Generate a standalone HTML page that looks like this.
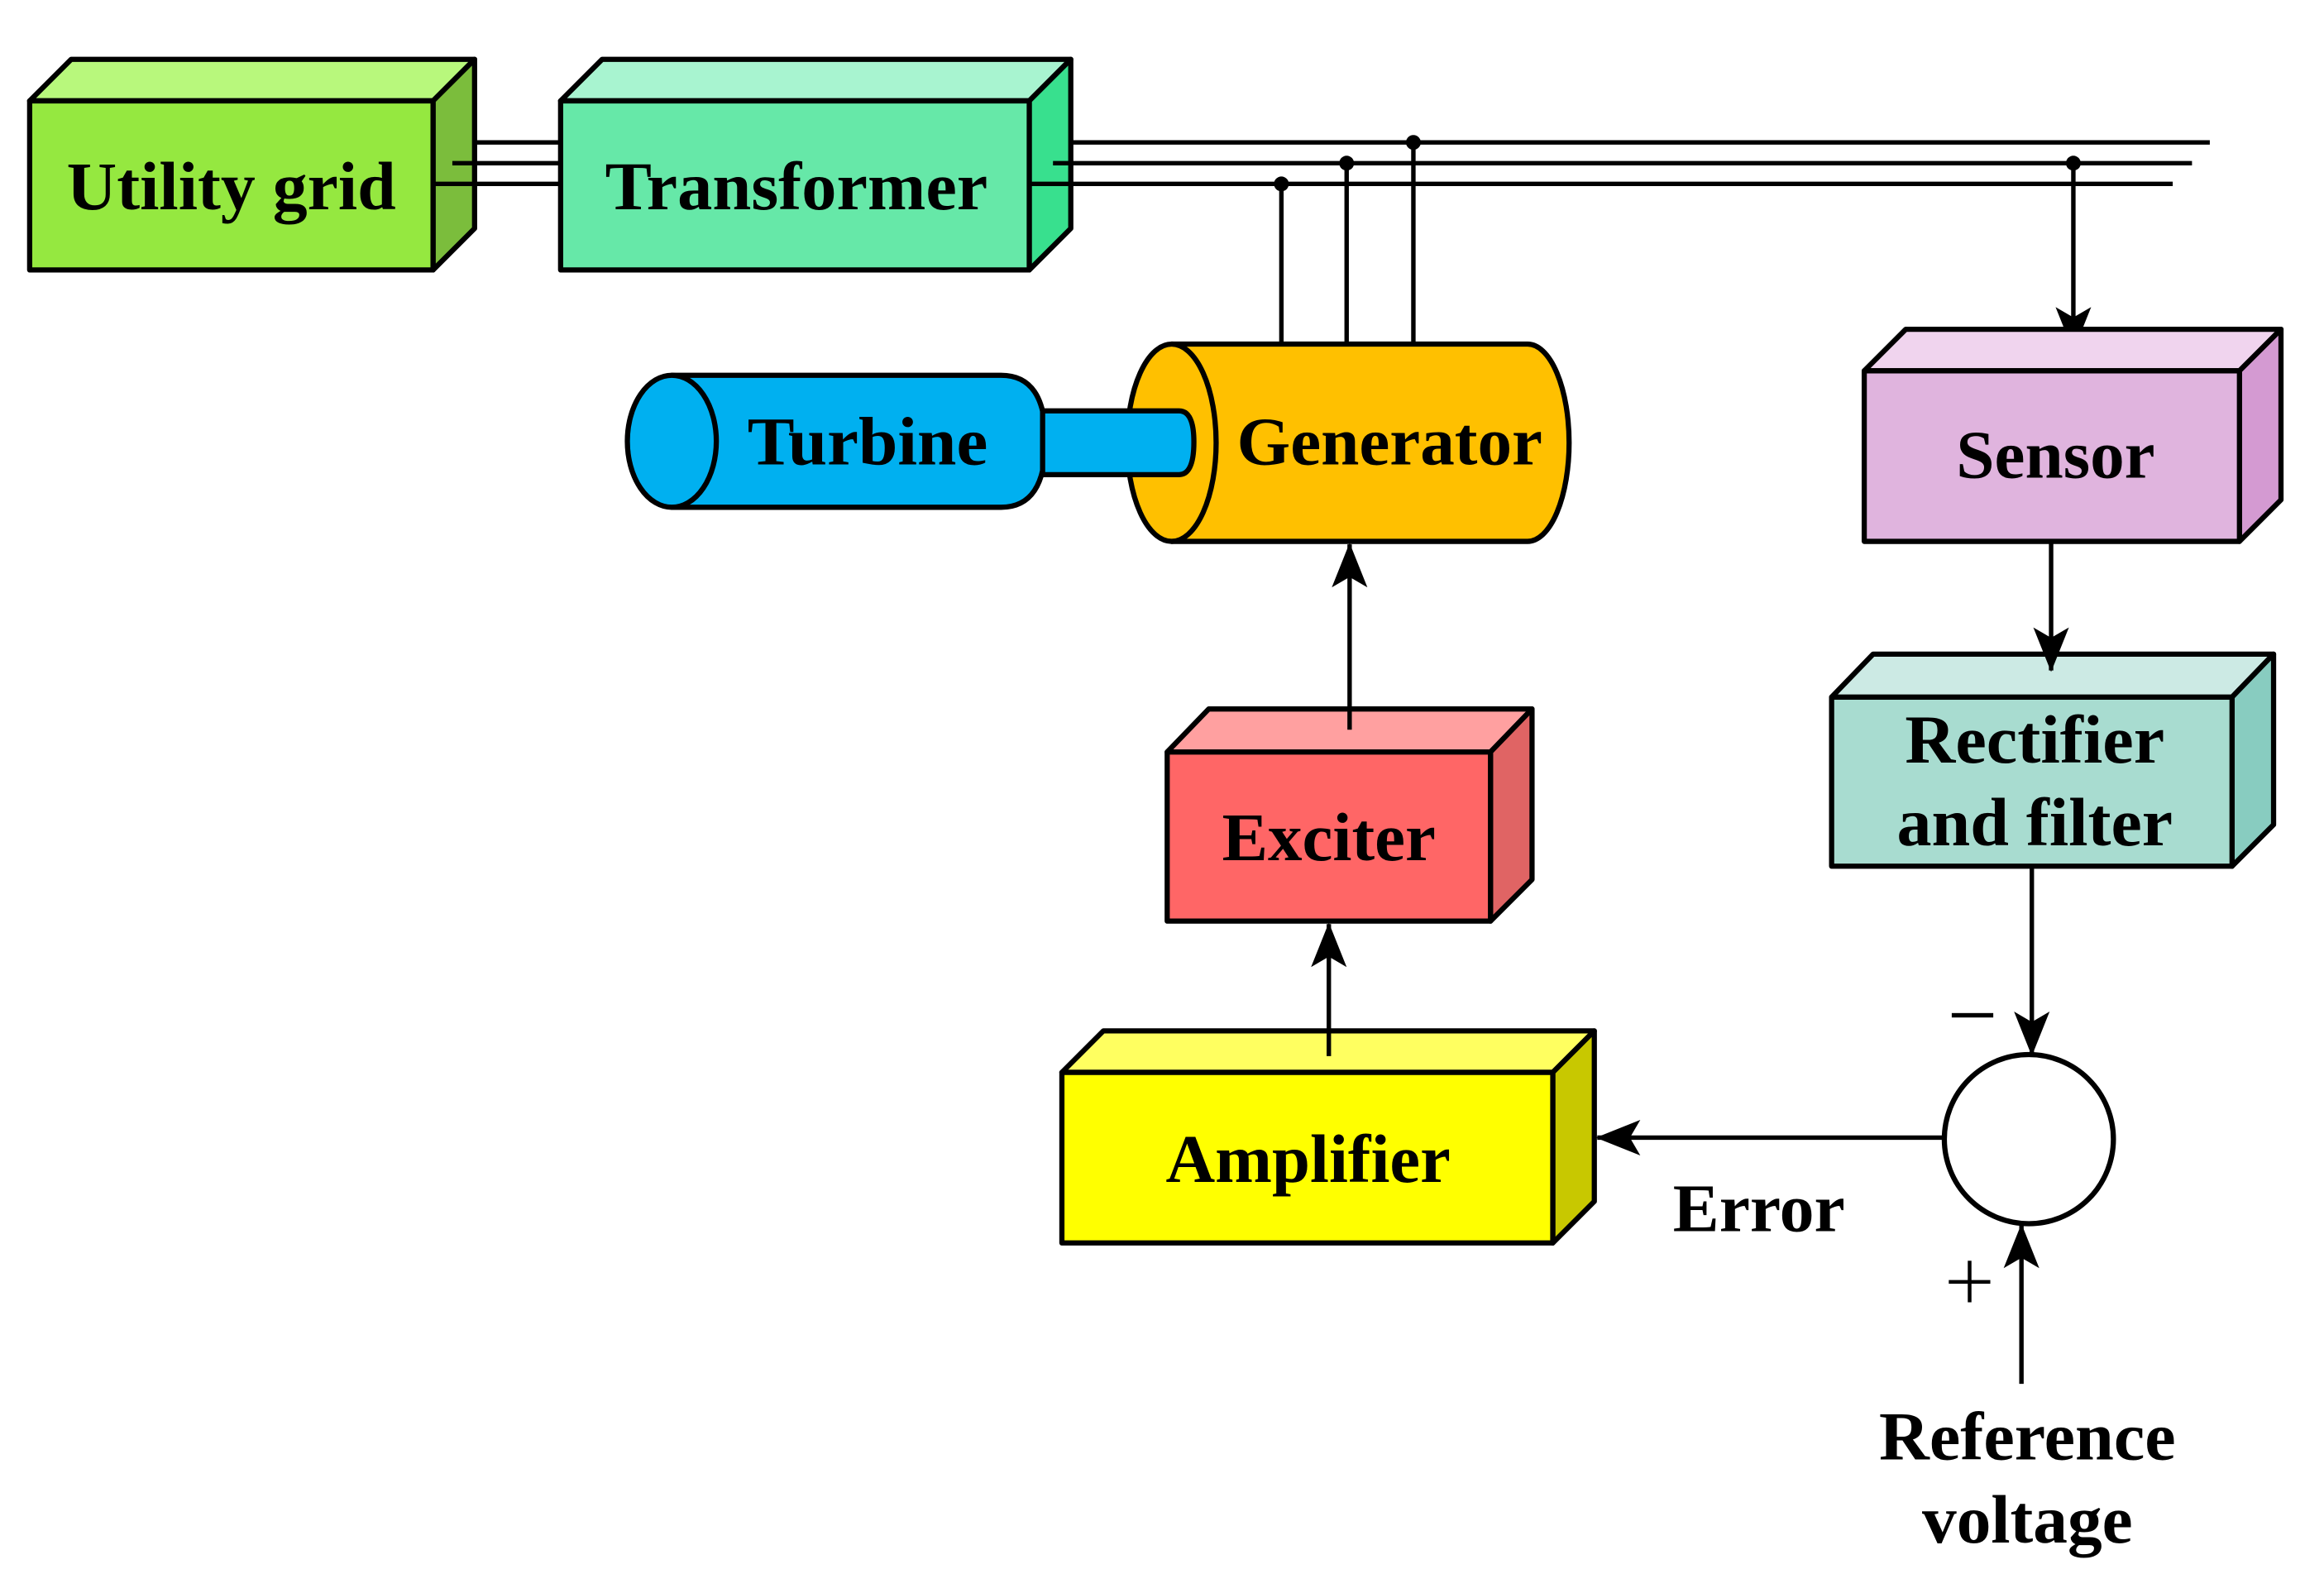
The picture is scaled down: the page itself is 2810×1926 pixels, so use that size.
<!DOCTYPE html>
<html><head><meta charset="utf-8"><style>html,body{margin:0;padding:0;background:#fff}svg{display:block}text{font-family:"Liberation Serif",serif;font-weight:bold;fill:#000}</style></head><body>
<svg width="2810" height="1926" viewBox="0 0 1567 1074" preserveAspectRatio="none" xmlns="http://www.w3.org/2000/svg">
<defs>
<marker id="b" markerWidth="30" markerHeight="30" refX="29" refY="15" orient="auto" markerUnits="userSpaceOnUse" viewBox="0 0 30 30"><path d="M0,3 L30,15 L0,27 L7,15 z" fill="#000"/></marker></defs>
<g stroke="#000" stroke-width="3.5" stroke-linejoin="round">
<g fill="none" stroke-width="3">
<line x1="320" y1="96" x2="378" y2="96"/><line x1="305" y1="110" x2="378" y2="110"/><line x1="292" y1="124" x2="378" y2="124"/>
<line x1="722" y1="96" x2="1490" y2="96"/><line x1="710" y1="110" x2="1478" y2="110"/><line x1="694" y1="124" x2="1465" y2="124"/>
<line x1="864" y1="124" x2="864" y2="232"/><line x1="908" y1="110" x2="908" y2="232"/><line x1="953" y1="96" x2="953" y2="232"/>
<line x1="1398" y1="110" x2="1398" y2="236" marker-end="url(#b)"/>
</g>
<g fill="#000" stroke="none"><circle cx="864" cy="124" r="5"/><circle cx="908" cy="110" r="5"/><circle cx="953" cy="96" r="5"/><circle cx="1398" cy="110" r="5"/></g>
<path d="M20,68 L48,40 L320,40 L292,68 Z" fill="#b8f87c"/><path d="M292,68 L320,40 L320,154 L292,182 Z" fill="#7bbd3c"/><rect x="20" y="68" width="272" height="114" fill="#95e840"/>
<line x1="292" y1="124" x2="320" y2="124" stroke-width="3"/><line x1="305" y1="110" x2="320" y2="110" stroke-width="3"/>
<path d="M378,68 L406,40 L722,40 L694,68 Z" fill="#a8f4d0"/><path d="M694,68 L722,40 L722,154 L694,182 Z" fill="#38e08e"/><rect x="378" y="68" width="316" height="114" fill="#66e8a8"/>
<line x1="694" y1="124" x2="722" y2="124" stroke-width="3"/><line x1="710" y1="110" x2="722" y2="110" stroke-width="3"/>
<path d="M453,253 L675,253 Q705,253 705,297 Q705,342 675,342 L453,342 Z" fill="#00b0f0"/>
<ellipse cx="453" cy="297.5" rx="30" ry="44.5" fill="#00b0f0"/>
<path d="M790,232 L1030,232 A28,66.5 0 0 1 1030,365 L790,365 Z" fill="#ffc000"/>
<ellipse cx="790" cy="298.5" rx="30" ry="66.5" fill="#ffc000"/>
<path d="M703,277 L795,277 Q805,277 805,298 Q805,320 795,320 L703,320 Z" fill="#00b0f0"/>
<path d="M1257,250 L1285,222 L1538,222 L1510,250 Z" fill="#f0d4ee"/><path d="M1510,250 L1538,222 L1538,337 L1510,365 Z" fill="#d49ad2"/><rect x="1257" y="250" width="253" height="115" fill="#e0b4de"/>
<path d="M1235,470 L1263,441 L1533,441 L1505,470 Z" fill="#cceae4"/><path d="M1505,470 L1533,441 L1533,556 L1505,584 Z" fill="#88ccc0"/><rect x="1235" y="470" width="270" height="114" fill="#a8dcd0"/>
<path d="M787,507 L815,478 L1033,478 L1005,507 Z" fill="#ffa0a0"/><path d="M1005,507 L1033,478 L1033,593 L1005,621 Z" fill="#e06464"/><rect x="787" y="507" width="218" height="114" fill="#ff6666"/>
<path d="M716,723 L744,695 L1075,695 L1047,723 Z" fill="#ffff60"/><path d="M1047,723 L1075,695 L1075,810 L1047,838 Z" fill="#c8c800"/><rect x="716" y="723" width="331" height="115" fill="#ffff00"/>
<circle cx="1368" cy="768" r="57" fill="#fff"/>
<g fill="none" stroke-width="3">
<line x1="1383" y1="365" x2="1383" y2="452" marker-end="url(#b)"/>
<line x1="1370" y1="584" x2="1370" y2="711" marker-end="url(#b)"/>
<line x1="1363" y1="933" x2="1363" y2="826" marker-end="url(#b)"/>
<line x1="1311" y1="767" x2="1077" y2="767" marker-end="url(#b)"/>
<line x1="896" y1="712" x2="896" y2="623" marker-end="url(#b)"/>
<line x1="910" y1="492" x2="910" y2="367" marker-end="url(#b)"/>
</g>
</g>
<g font-size="46">
<text x="156" y="141" text-anchor="middle" textLength="222" lengthAdjust="spacingAndGlyphs">Utility grid</text>
<text x="537" y="141" text-anchor="middle" textLength="258" lengthAdjust="spacingAndGlyphs">Transformer</text>
<text x="585" y="313" text-anchor="middle" textLength="162" lengthAdjust="spacingAndGlyphs">Turbine</text>
<text x="937" y="313" text-anchor="middle" textLength="206" lengthAdjust="spacingAndGlyphs">Generator</text>
<text x="1386" y="322" text-anchor="middle" textLength="134" lengthAdjust="spacingAndGlyphs">Sensor</text>
<text x="1372" y="514" text-anchor="middle" textLength="175" lengthAdjust="spacingAndGlyphs">Rectifier</text>
<text x="1372" y="570" text-anchor="middle" textLength="186" lengthAdjust="spacingAndGlyphs">and filter</text>
<text x="896" y="580" text-anchor="middle" textLength="144" lengthAdjust="spacingAndGlyphs">Exciter</text>
<text x="882" y="797" text-anchor="middle" textLength="192" lengthAdjust="spacingAndGlyphs">Amplifier</text>
<text x="1186" y="830" text-anchor="middle" textLength="116" lengthAdjust="spacingAndGlyphs">Error</text>
<text x="1367" y="984" text-anchor="middle" textLength="200" lengthAdjust="spacingAndGlyphs">Reference</text>
<text x="1367" y="1040" text-anchor="middle" textLength="142" lengthAdjust="spacingAndGlyphs">voltage</text>
</g>
<rect x="1316" y="683" width="28" height="3" fill="#000"/>
<rect x="1314" y="863" width="28" height="2.5" fill="#000"/>
<rect x="1326.8" y="850" width="2.5" height="28" fill="#000"/>
</svg>
</body></html>
